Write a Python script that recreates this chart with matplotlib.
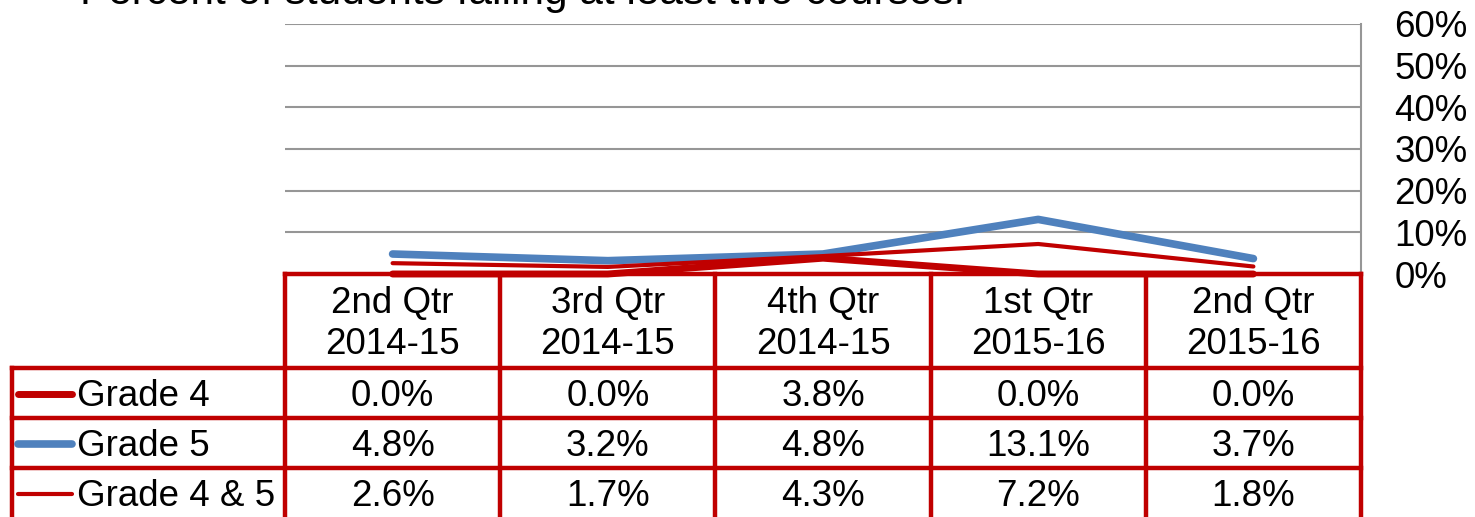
import numpy as np
import matplotlib
matplotlib.use('Agg')
import matplotlib.pyplot as plt
from matplotlib.lines import Line2D

plt.rcParams['font.family'] = ['Liberation Sans', 'DejaVu Sans']

title = 'Percent of students failing at least two courses.'
quarters = ['2nd Qtr\n2014-15', '3rd Qtr\n2014-15', '4th Qtr\n2014-15',
            '1st Qtr\n2015-16', '2nd Qtr\n2015-16']
series_names = ['Grade 4', 'Grade 5', 'Grade 4 & 5']
grade4 = [0.0, 0.0, 3.8, 0.0, 0.0]
grade5 = [4.8, 3.2, 4.8, 13.1, 3.7]
grade45 = [2.6, 1.7, 4.3, 7.2, 1.8]
yticks = [0, 10, 20, 30, 40, 50, 60]

red = '#C00000'
blue = '#4F81BD'
grid_c = '#969696'
fs = 26.5

W, H = 1475, 517
fig = plt.figure(figsize=(W / 100, H / 100), dpi=100)

# pixel layout
px_left, px_right, px_top, px_bot = 285, 1361, 24, 274
ax = fig.add_axes([px_left / W, 1 - px_bot / H, (px_right - px_left) / W, (px_bot - px_top) / H])

styles = [dict(color=red, lw=5.0), dict(color=blue, lw=5.5), dict(color=red, lw=3.0)]
x = np.arange(len(quarters))
for vals, st in zip([grade4, grade5, grade45], styles):
    ax.plot(x, vals, solid_capstyle='round', solid_joinstyle='round', clip_on=False, zorder=3, **st)

ax.set_xlim(-0.5, len(quarters) - 0.5)
ax.set_ylim(0, 60)
ax.set_yticks(yticks)
ax.set_yticklabels([f'{t}%' for t in yticks], fontsize=fs)
ax.yaxis.tick_right()
ax.tick_params(axis='y', length=0, pad=24)
ax.set_xticks([])
ax.grid(axis='y', color=grid_c, lw=1.5)
for s in ['left', 'top', 'bottom']:
    ax.spines[s].set_visible(False)
ax.spines['right'].set_color(grid_c)
ax.spines['right'].set_linewidth(1.5)

# overlay in pixel coordinates for title and data table
ov = fig.add_axes([0, 0, 1, 1], zorder=5)
ov.set_xlim(0, W)
ov.set_ylim(H, 0)
ov.axis('off')
ov.patch.set_alpha(0)

ov.text(80, 4, title, fontsize=30.5, ha='left', va='baseline')

col_edges = np.linspace(px_left, px_right, len(quarters) + 1)
row_edges = [274, 368, 418, 468, 530]
tlw = 3.2
# header
ov.plot([px_left, px_right], [row_edges[0], row_edges[0]], color=red, lw=tlw)
for cx in col_edges:
    ov.plot([cx, cx], [row_edges[0], H + 5], color=red, lw=tlw)
ov.plot([12, 12], [row_edges[1], H + 5], color=red, lw=tlw)
for ry in row_edges[1:4]:
    ov.plot([12, px_right], [ry, ry], color=red, lw=tlw)

for i, q in enumerate(quarters):
    cx = (col_edges[i] + col_edges[i + 1]) / 2
    ov.text(cx, (row_edges[0] + row_edges[1]) / 2 + 3, q, fontsize=fs, ha='center', va='center',
            linespacing=1.2)

for r, (name, vals, st) in enumerate(zip(series_names, [grade4, grade5, grade45], styles)):
    cy = row_edges[r + 1] + 28
    ov.add_line(Line2D([18, 72], [cy - 2, cy - 2], solid_capstyle='round', **st))
    ov.text(77, cy, name, fontsize=fs, ha='left', va='center')
    for i, v in enumerate(vals):
        cx = (col_edges[i] + col_edges[i + 1]) / 2
        ov.text(cx, cy, f'{v:.1f}%', fontsize=fs, ha='center', va='center')

fig.savefig('out.png', dpi=100)
